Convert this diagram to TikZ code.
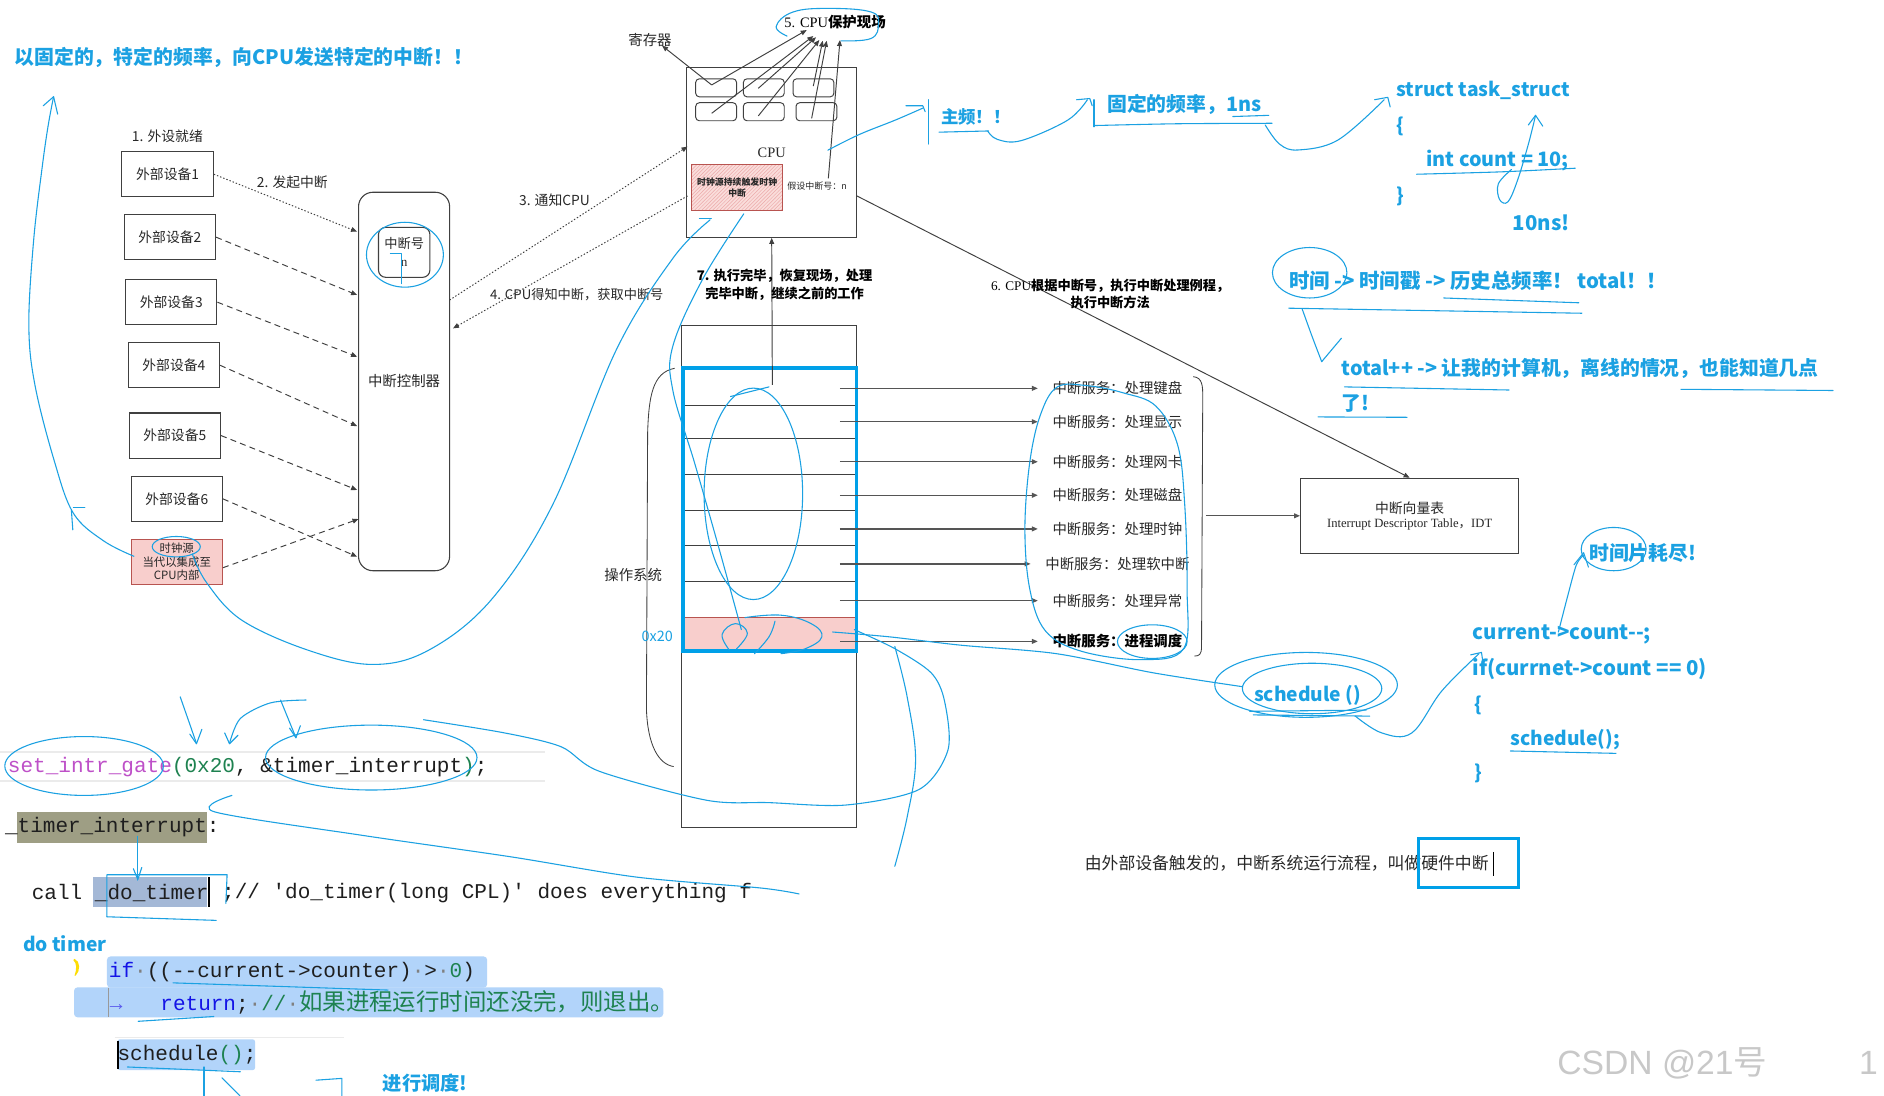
\documentclass[tikz,border=0pt]{standalone}
\usepackage{fontspec}
\setmainfont{Liberation Serif}
\setmonofont{Liberation Mono}
\newfontfamily\cjk{Noto Sans CJK SC}
\newfontfamily\lsans{Liberation Sans}
\usetikzlibrary{arrows.meta,patterns,calc}
\definecolor{hb}{RGB}{27,161,226}
\definecolor{osb}{RGB}{0,160,232}
\definecolor{dline}{RGB}{64,64,64}
\definecolor{txt}{RGB}{40,40,40}
\definecolor{sarrow}{RGB}{85,85,85}
\definecolor{pinkf}{RGB}{248,206,204}
\definecolor{pinkd}{RGB}{184,84,80}
\definecolor{hatch}{RGB}{236,170,170}
\definecolor{codebg}{RGB}{178,212,250}
\definecolor{olivebg}{RGB}{158,158,132}
\definecolor{dobg}{RGB}{164,184,214}
\definecolor{purp}{RGB}{190,80,200}
\definecolor{cgreen}{RGB}{30,130,80}
\definecolor{cblue}{RGB}{20,20,230}
\definecolor{ctext}{RGB}{30,30,30}
\definecolor{wm}{RGB}{200,200,200}
\newcommand\fsz[2]{\fontsize{#1}{#2}\selectfont}
\tikzset{
  ln/.style={draw=dline, line width=0.8pt},
  dev/.style={draw=dline, line width=0.9pt, minimum width=76pt, minimum height=37.5pt, inner sep=0pt, font=\cjk\fsz{11.5}{13}, text=txt},
  tip/.style={-{Triangle[length=5pt,width=4pt]}},
  dsh/.style={dash pattern=on 5pt off 3.5pt},
  dts/.style={dash pattern=on 1.2pt off 1.6pt},
  reg/.style={draw=dline, line width=0.8pt, rounded corners=3pt, minimum width=34pt, minimum height=15pt, inner sep=0pt},
  svc/.style={font=\cjk\fsz{12}{14}, text=txt, inner xsep=12pt, inner ysep=1pt},
  lbl/.style={font=\cjk\fsz{11.5}{13}, text=txt, inner sep=0pt},
  hand/.style={draw=hb, line width=0.9pt, line cap=round, line join=round},
  hw/.style={text=hb, font=\cjk\bfseries\fsz{16}{19}, inner sep=0pt, anchor=west},
  code/.style={font=\ttfamily\fsz{17.5}{20}, inner sep=0pt, anchor=west, text=ctext},
}
\begin{document}
\begin{tikzpicture}[x=1pt,y=-1pt]
\useasboundingbox (0,0) rectangle (1568,912);
\fill[white] (0,0) rectangle (1568,912);

% ---------- title ----------
\node[hw, font=\cjk\bfseries\fsz{16.5}{19}] (title) at (12,48) {以固定的，特定的频率，向CPU发送特定的中断！！};

% ---------- devices ----------
\node[lbl] (lab1) at (139.3,113.8) {1. 外设就绪};
\node[dev] (d1) at (139.5,145) {外部设备1};
\node[dev] (d2) at (141.4,197.4) {外部设备2};
\node[dev] (d3) at (142.5,251.5) {外部设备3};
\node[dev] (d4) at (144.7,304) {外部设备4};
\node[dev] (d5) at (145.5,362.5) {外部设备5};
\node[dev] (d6) at (147.1,415.2) {外部设备6};
\node[dev, fill=pinkf, draw=pinkd, font=\cjk\fsz{9.5}{11.5}, align=center] (clk) at (147.1,467.5) {时钟源\\当代以集成至\\CPU内部};
\node[lbl] (lab2) at (243.3,152) {2. 发起中断};

% ---------- interrupt controller ----------
\node[draw=dline, line width=0.9pt, rounded corners=12pt, minimum width=75.8pt, minimum height=315pt, font=\cjk\fsz{12}{14}, text=txt] (ctrl) at (336.3,317.5) {中断控制器};
\node[draw=dline, line width=0.9pt, rounded corners=6pt, minimum width=42.8pt, minimum height=41.6pt, inner sep=0pt, align=center, font=\cjk\fsz{11}{15}, text=txt] (irq) at (336.4,210) {中断号\\{\rmfamily n}};
\coordinate (ca1) at (297.2,192.8);
\coordinate (ca2) at (297.2,245.5);
\coordinate (ca3) at (297.2,296.9);
\coordinate (ca4) at (297.2,354.6);
\coordinate (ca5) at (297.2,407.8);
\coordinate (ca6) at (297.2,463.3);
\coordinate (cac) at (298.4,432);
\draw[ln,dts,tip] (d1.east) -- (ca1);
\draw[ln,dsh,tip] (d2.east) -- (ca2);
\draw[ln,dsh,tip] (d3.east) -- (ca3);
\draw[ln,dsh,tip] (d4.east) -- (ca4);
\draw[ln,dsh,tip] (d5.east) -- (ca5);
\draw[ln,dsh,tip] (d6.east) -- (ca6);
\draw[ln,dsh,tip] ($(clk.east)+(0,5)$) -- (cac);

% ---------- CPU ----------
\node[draw=dline, line width=0.9pt, minimum width=141.5pt, minimum height=141.2pt, inner sep=0pt, font=\fsz{12}{14}, text=txt] (cpu) at (642.25,126.9) {CPU};
\node[reg] (r1) at (596,73.1) {};
\node[reg] (r2) at (635.7,73.1) {};
\node[reg] (r3) at (677,73.1) {};
\node[reg] (r4) at (596,93) {};
\node[reg] (r5) at (635.7,93) {};
\node[reg] (r6) at (679.5,93) {};
\fill[pinkf!70] (575.7,136.8) rectangle (651.4,175.3);
\path[pattern=north east lines, pattern color=hatch] (575.7,136.8) rectangle (651.4,175.3);
\draw[pinkd, line width=0.9pt] (575.7,136.8) rectangle (651.4,175.3);
\node[inner sep=0pt, align=center, font=\cjk\bfseries\fsz{7.4}{9.5}, text=txt] (redb) at (613.5,156) {时钟源持续触发时钟\\中断};
\node[font=\cjk\fsz{7.5}{9}, text=txt, inner sep=0pt] (assume) at (680,154.5) {假设中断号：n};
\node[font=\cjk\fsz{12}{14}, text=txt, inner sep=0pt] (regl) at (541,33) {寄存器};
\node[font=\fsz{12}{14}, text=black, inner sep=0pt] (prot) at (695,18) {5. CPU{\cjk\bfseries 保护现场}};
\coordinate (rs) at (592.3,70.7);
\coordinate (rt) at (551,38);
\draw[ln,tip] (rs) -- (rt);
\foreach \a/\b/\c/\d in {592.3/70.7/671.4/25, 592.3/94.3/676.9/30, 631.1/73.5/679.2/31, 631.1/96.5/681.9/33.3, 676.9/71.6/684.7/33.9, 675.5/98.5/688/33.9, 689.4/148.4/699.1/33.3}{
  \draw[ln,tip] (\a,\b) -- (\c,\d);
}
\node[lbl] (lab3) at (461.5,166.5) {3. 通知CPU};
\node[lbl, font=\cjk\fsz{11}{13}] (lab4) at (480,245.5) {4. CPU得知中断，获取中断号};
\coordinate (c3s) at (374.2,249.7);
\coordinate (cpu3) at (572.2,122);
\coordinate (cpu4) at (572.2,163.1);
\coordinate (c4e) at (377,273.3);
\draw[ln,dts,tip] (c3s) -- (cpu3);
\draw[ln,dts,tip] (cpu4) -- (c4e);

% ---------- OS table ----------
\node[draw=dline, line width=0.8pt, minimum width=145.4pt, minimum height=418.5pt, inner sep=0pt] (os) at (640.1,479.75) {};
\fill[pinkf] (568.5,513.8) rectangle (712.8,541.6);
\draw[pinkd, line width=0.6pt] (568.5,513.8) -- (712.8,513.8);
\foreach \y in {337.4,364.8,394.8,424.7,454.4,484.1}{
  \draw[dline, line width=0.8pt] (568.5,\y) -- (712.8,\y);
}
\draw[osb, line width=3.2pt] (568.5,306.6) rectangle (712.8,541.6);
\node[font=\cjk\fsz{12}{14}, text=txt, inner sep=0pt] (osl) at (527,478.6) {操作系统};
\draw[dline, line width=0.7pt] (561.5,306.5) .. controls (543,310) and (540,330) .. (539,360) -- (538,590) .. controls (539,620) and (548,636) .. (560.7,638);
\coordinate (o7) at (642.8,320.4);
\draw[ln,tip] (o7) -- (cpu.south);
\node[font=\cjk\bfseries\fsz{11}{14.4}, align=center, text=black, inner sep=0pt] (lab7) at (653,237) {7. 执行完毕，恢复现场，处理\\完毕中断，继续之前的工作};

% ---------- services ----------
\node[svc] (s1) at (930,323.2) {中断服务：处理键盘};
\node[svc] (s2) at (930,351) {中断服务：处理显示};
\node[svc] (s3) at (930,384.3) {中断服务：处理网卡};
\node[svc] (s4) at (930,412.2) {中断服务：处理磁盘};
\node[svc] (s5) at (930,440.2) {中断服务：处理时钟};
\node[svc] (s6) at (930,469.3) {中断服务：处理软中断};
\node[svc] (s7) at (930,499.9) {中断服务：处理异常};
\node[svc, font=\cjk\bfseries\fsz{12}{14}, text=black] (s8) at (930,533.8) {中断服务：进程调度};
\foreach \i/\y in {1/323.2,2/351,3/384.3,4/412.2,5/440.2,6/469.3,7/499.9,8/533.8}{
  \coordinate (ost\i) at (699,\y);
  \draw[draw=sarrow, line width=1.1pt, tip] (ost\i) -- (s\i.west);
}
\draw[dline, line width=0.7pt] (993,313.5) .. controls (1001,314) and (1001,322) .. (1001,330) -- (1000,538) .. controls (1000,545) and (998,546) .. (994,546);

% ---------- IDT ----------
\node[draw=dline, line width=0.9pt, minimum width=181.5pt, minimum height=62.5pt, inner sep=0pt, align=center, text=txt] (idt) at (1173.2,429.3) {{\cjk\fsz{11.5}{15.3}中断向量表}\\{\fsz{10.5}{13}Interrupt Descriptor Table{\cjk ，}IDT}};
\coordinate (brk) at (1003.6,429.3);
\draw[draw=sarrow, line width=1.1pt, tip] (brk) -- (idt.west);
\coordinate (cpu6) at (713,163);
\draw[ln,tip] (cpu6) -- (idt.north);
\node[font=\cjk\bfseries\fsz{11}{14.4}, align=center, text=black, inner sep=0pt] (lab6) at (924,244.4) {{\rmfamily\mdseries 6. CPU}根据中断号，执行中断处理例程，\\执行中断方法};

% ---------- bottom sentence ----------
\node[font=\cjk\fsz{14}{16}, text=txt, anchor=west, inner sep=0pt] (hwint) at (902.7,718.5) {由外部设备触发的，中断系统运行流程，叫做硬件中断};
\draw[osb, line width=2.8pt] (1180.4,697.7) rectangle (1263.9,738.5);
\draw[black, line width=0.5pt] (1243,709) -- (1243,729);

% ---------- blue notes ----------
\node[hw, font=\cjk\bfseries\fsz{14.5}{17}] (zp) at (783,97) {主频！！};
\node[hw, font=\cjk\bfseries\fsz{16.5}{19}] (gd) at (921.4,86.6) {固定的频率，1ns};
\node[hw, font=\cjk\bfseries\fsz{16}{18}] (st1) at (1162,75.5) {struct task\_struct};
\node[hw, font=\cjk\bfseries\fsz{16}{18}] (st2) at (1162,105.4) {\{};
\node[hw, font=\cjk\bfseries\fsz{16.5}{18}] (st3) at (1186.8,134) {int count = 10;};
\node[hw, font=\cjk\bfseries\fsz{16}{18}] (st4) at (1162,163.7) {\}};
\node[hw, font=\cjk\bfseries\fsz{17}{19}] (tn) at (1259,185.3) {10ns!};
\node[hw, font=\cjk\bfseries\fsz{17}{19}] (tm) at (1072.6,233.6) {时间 -> 时间戳 -> 历史总频率！ total！！};
\node[hw, font=\cjk\bfseries\fsz{16.5}{19}] (tot) at (1116.4,306.6) {total++ -> 让我的计算机，离线的情况，也能知道几点};
\node[hw, font=\cjk\bfseries\fsz{16.5}{19}] (le) at (1116.4,335.7) {了!};
\node[hw, font=\cjk\bfseries\fsz{16.5}{19}] (tsl) at (1322.5,460.5) {时间片耗尽!};
\node[hw, font=\cjk\bfseries\fsz{17}{19}] (cc1) at (1225.5,528) {current->count-\kern0pt-;};
\node[hw, font=\cjk\bfseries\fsz{17}{19}] (cc2) at (1225.5,557) {if(currnet->count == 0)};
\node[hw] (cc3) at (1227,586.8) {\{};
\node[hw] (cc4) at (1256.8,615.3) {schedule();};
\node[hw] (cc5) at (1227,643.6) {\}};
\node[hw] (sch) at (1043.5,579) {schedule ()};
\node[hw] (dot) at (19,785) {do timer};
\node[hw] (jx) at (318.5,901.6) {进行调度!};
\node[text=hb, font=\cjk\fsz{12}{14}, inner sep=0pt] (hx) at (547,530) {0x20};

% ---------- code ----------
\draw[black!8, line width=1.5pt] (0,625.6) -- (453.5,625.6);
\draw[black!8, line width=1.5pt] (0,650) -- (453.5,650);
\node[code] (c1) at (6.4,638) {\textcolor{purp}{set\_intr\_gate}\textcolor{cgreen}{(0x20}, \&timer\_interrupt\textcolor{cgreen}{)};};
\fill[olivebg] (14,675.5) rectangle (172,701.3);
\node[code] (c2) at (4,688.6) {\_timer\_interrupt:};
\fill[dobg] (77.7,729.6) rectangle (172,754.6);
\node[code] (c3) at (26.3,743) {call \_do\_timer};
\draw[black, line width=1.6pt] (174,730) -- (174,755);
\node[code] (c3b) at (184.7,743) {;// 'do\_timer(long CPL)' does everything f};
\fill[codebg, rounded corners=3pt] (89,796) rectangle (405.5,822);
\fill[codebg, rounded corners=3pt] (61.6,821.7) rectangle (552,846.7);
\draw[black!40, line width=0.6pt] (90,822) -- (90,846.7);
\node[code] (c4) at (90.5,808.7) {\textcolor{cblue}{if}\textcolor{gray}{·}((-\kern0pt-current->counter)\textcolor{gray}{·}>\textcolor{gray}{·}\textcolor{cgreen}{0})};
\node[code] (c5) at (91.3,834.5) {\textcolor{cblue!70}{→}\hspace{31.5pt}\textcolor{cblue}{return};\textcolor{gray}{·}\textcolor{cgreen}{//}\textcolor{gray}{·}{\cjk\fsz{19.5}{20}\textcolor{cgreen}{如果进程运行时间还没完，则退出。}}};
\draw[black!8, line width=1.2pt] (95.5,863.4) -- (286.6,863.4);
\fill[codebg, rounded corners=2pt] (97.7,865) rectangle (212.3,890.6);
\node[code] (c6) at (97.7,878) {schedule\textcolor{cgreen}{()};};
\draw[black, line width=1.6pt] (98,866) -- (98,890);
\fill[yellow!80!orange] (62,798) .. controls (67,800) and (67,808) .. (63,812) -- (62,812) .. controls (64,806) and (64,802) .. (61,799) -- cycle;

% ---------- watermark ----------
\node[font=\lsans\fsz{28}{30}, text=wm, anchor=west, inner sep=0pt] (wmk) at (1296,885) {CSDN @21{\cjk 号}};
\node[font=\lsans\fsz{28}{30}, text=wm, inner sep=0pt] (wm1) at (1555,885) {1};

% ---------- hand-drawn strokes ----------
\draw[hand] plot[smooth, tension=0.6] coordinates {(111.5,463) (86,450) (61,427) (45,383) (29,320) (24,270) (28,200) (35,140) (40,105) (44.6,80.5)};
\draw[hand] (36,88) -- (44.6,80.5) -- (48,95);
\draw[hand] (61,422.5) -- (70.6,422.5);
\draw[hand] (59.4,424.5) -- (60.6,441);
\draw[hand] (146.7,455) ellipse [x radius=20pt, y radius=8.5pt];
\draw[hand] plot[smooth, tension=0.6] coordinates {(160,461) (172,485) (201,516) (256,541) (310,553) (357,541) (409,499) (460,420) (513,291) (560,215) (591,183)};
\draw[hand] (582,182) -- (592,182);
\draw[hand] plot[smooth, tension=0.6] coordinates {(617,524) (598,455) (578,385) (560,325) (560,288) (585,232) (619,178)};
\draw[hand] (337,212) ellipse [x radius=32pt, y radius=27pt];
\draw[hand] (325,211) -- (334,211) -- (334,236);
\draw[hand] plot[smooth, tension=0.7] coordinates {(655,30) (646,22) (660,10) (690,7) (725,10) (731,20) (725,32) (700,34)};
\draw[hand] plot[smooth, tension=0.6] coordinates {(689,125) (715,112) (745,100) (768,90)};
\draw[hand] (754,88) -- (768,88) -- (770,93);
\draw[hand] (773,83) -- (773,120);
\draw[hand] (781.5,110) -- (822.7,109);
\draw[hand] plot[smooth, tension=0.6] coordinates {(822,109) (830,116) (850,117) (888.6,100) (905,83)};
\draw[hand] (896,83) -- (907,82) -- (909,88);
\draw[hand] (910.5,83) -- (910.5,105.5);
\draw[hand] plot[smooth] coordinates {(910.5,104.5) (980,103) (1058.7,102.6)};
\draw[hand] (1026,97) -- (1056,96);
\draw[hand] plot[smooth, tension=0.6] coordinates {(1053,104) (1065,120) (1080.7,124.8) (1113.6,116.5) (1152,83)};
\draw[hand] (1144,83) -- (1155,81) -- (1157,89);
\draw[hand] plot[smooth] coordinates {(1179,145) (1250,143) (1311,140)};
\draw[hand] plot[smooth, tension=0.6] coordinates {(1258,141) (1247,153) (1248,166) (1255,168) (1263,150) (1272,120) (1278,96)};
\draw[hand] (1272,104) -- (1278,96) -- (1284,105);
\draw[hand] (1090,227) ellipse [x radius=31pt, y radius=21pt];
\draw[hand] (1201.6,248) -- (1314,252);
\draw[hand] (1072.6,256.5) -- (1316.6,260.7);
\draw[hand] plot[smooth] coordinates {(1083.7,257) (1092,280) (1100,301)};
\draw[hand] (1100,301) -- (1116.4,281.5);
\draw[hand] (1119,322) -- (1256,324.6);
\draw[hand] (1399,324) -- (1525.6,325);
\draw[hand] (1097,347) -- (1171,347.3);
\draw[hand] (1343,457) ellipse [x radius=27pt, y radius=18pt];
\draw[hand] plot[smooth] coordinates {(1297,526) (1305,495) (1312,470) (1318,462)};
\draw[hand] (1310,470) -- (1318,460) -- (1322,472);
\draw[hand] (1087,570) ellipse [x radius=76pt, y radius=27pt];
\draw[hand] (1092,573) ellipse [x radius=58pt, y radius=21pt];
\draw[hand] (1040,592) -- (1137,591);
\draw[hand] (1043,595) -- (1140,596);
\draw[hand] plot[smooth, tension=0.6] coordinates {(1128,596) (1150,610) (1175,610) (1200,575) (1231,544)};
\draw[hand] (1224,545) -- (1233,543) -- (1234,550);
\draw[hand] plot[smooth, tension=0.5] coordinates {(1034,571.5) (960,560) (879,544) (800,537) (740,530) (693,526)};
\draw[hand] (1257,625) -- (1345,627);
\draw[hand] (959,534) ellipse [x radius=29pt, y radius=14pt];
\draw[hand] plot[smooth cycle, tension=0.6] coordinates {(880,322) (866,345) (857,385) (853,440) (857,490) (870,525) (900,542) (950,549) (985,540) (988,490) (986,420) (980,370) (962,338) (935,327) (905,321)};
\draw[hand] (627,411) ellipse [x radius=41pt, y radius=88pt];
\draw[hand] (608,330) -- (640,322);
\draw[hand] plot[smooth, tension=0.7] coordinates {(607,541) (601,528) (612,519) (622,527) (613,540)};
\draw[hand] plot[smooth, tension=0.7] coordinates {(628,544) (640,530) (645,517)};
\draw[hand] plot[smooth, tension=0.7] coordinates {(620,514) (650,512) (675,519) (684,530) (670,540) (650,544)};
\draw[hand] plot[smooth, tension=0.5] coordinates {(711,524) (745,540) (775,560) (786,583) (789,624) (765,657) (704,670) (640,668) (588,666) (499,642) (467,621.5) (420,610) (352.5,599)};
\draw[hand] plot[smooth, tension=0.5] coordinates {(193,662) (178,675.5) (300,695) (424.5,713) (530,730) (632.6,739) (665,744)};
\draw[hand] plot[smooth, tension=0.6] coordinates {(744.7,538) (755,580) (762,632) (755,680) (744.7,721)};
\draw[hand] (70,637.5) ellipse [x radius=66pt, y radius=24.5pt];
\draw[hand] (309,630.5) ellipse [x radius=88pt, y radius=27pt];
\draw[hand] plot[smooth] coordinates {(150,580) (157,600) (163.5,618.7)};
\draw[hand] (158,611) -- (163.5,619) -- (168,607);
\draw[hand] plot[smooth] coordinates {(191,618.7) (200,598) (225,585) (254.7,582.6)};
\draw[hand] (187,610) -- (191,619) -- (198,612);
\draw[hand] (233.5,582.6) -- (246.3,614);
\draw[hand] (241,606) -- (246.3,614) -- (250,604);
\draw[hand] (89,763) -- (89,728) -- (189,728) -- (188,752);
\draw[hand] (89,763) -- (180,766);
\draw[hand] (114.7,696) -- (114.7,732.5);
\draw[hand] (111,723) -- (114.7,732) -- (118,722);
\draw[hand] (144,818) -- (323,824);
\draw[hand] (115,850) -- (178,846);
\draw[hand] (106,888) -- (200,892);
\draw[hand] (169.8,888) -- (169.8,912);
\draw[hand] (184.7,897) -- (199.7,912);
\draw[hand] (263,899) -- (284.5,897.5) -- (284.5,912);
\end{tikzpicture}
\end{document}
